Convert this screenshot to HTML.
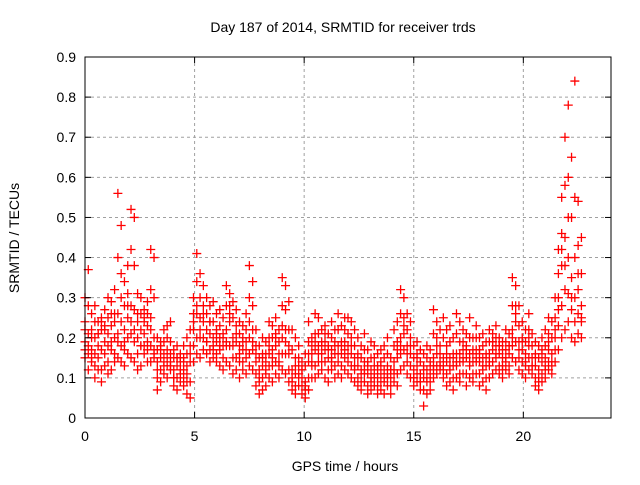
<!DOCTYPE html>
<html><head><meta charset="utf-8"><style>
body{margin:0;background:#fff;}
svg text{font-family:"Liberation Sans",sans-serif;font-size:14px;fill:#000;}
</style></head><body>
<svg id="chart" width="640" height="480" xmlns="http://www.w3.org/2000/svg">
<text x="343" y="32" text-anchor="middle">Day 187 of 2014, SRMTID for receiver trds</text>
<text transform="translate(19,238) rotate(-90)" text-anchor="middle">SRMTID / TECUs</text>
<text x="345" y="471" text-anchor="middle">GPS time / hours</text>
<g id="grid"></g><g id="pts"></g><g id="axes"></g>
</svg>
<script>
const xTicks=[0,5,10,15,20];
const yTicks=[0,0.1,0.2,0.3,0.4,0.5,0.6,0.7,0.8,0.9];
const yTickLabels=["0","0.1","0.2","0.3","0.4","0.5","0.6","0.7","0.8","0.9"];
const hours=[0,0.15,0.3,0.45,0.6,0.75,0.9,1.05,1.2,1.35,1.5,1.65,1.8,1.95,2.1,2.25,2.4,2.55,2.7,2.85,3,3.15,3.3,3.45,3.6,3.75,3.9,4.05,4.2,4.35,4.5,4.65,4.8,4.95,5.1,5.25,5.4,5.55,5.7,5.85,6,6.15,6.3,6.45,6.6,6.75,6.9,7.05,7.2,7.35,7.5,7.65,7.8,7.95,8.1,8.25,8.4,8.55,8.7,8.85,9,9.15,9.3,9.45,9.6,9.75,9.9,10.05,10.2,10.35,10.5,10.65,10.8,10.95,11.1,11.25,11.4,11.55,11.7,11.85,12,12.15,12.3,12.45,12.6,12.75,12.9,13.05,13.2,13.35,13.5,13.65,13.8,13.95,14.1,14.25,14.4,14.55,14.7,14.85,15,15.15,15.3,15.45,15.6,15.75,15.9,16.05,16.2,16.35,16.5,16.65,16.8,16.95,17.1,17.25,17.4,17.55,17.7,17.85,18,18.15,18.3,18.45,18.6,18.75,18.9,19.05,19.2,19.35,19.5,19.65,19.8,19.95,20.1,20.25,20.4,20.55,20.7,20.85,21,21.15,21.3,21.45,21.6,21.75,21.9,22.05,22.2,22.35,22.5,22.65];
const lowVals=[.15,.12,.14,.10,.12,.09,.13,.11,.12,.14,.15,.14,.13,.16,.15,.14,.12,.13,.16,.14,.14,.15,.07,.09,.11,.10,.12,.08,.07,.09,.08,.06,.05,.14,.16,.15,.17,.16,.14,.15,.14,.13,.12,.14,.13,.11,.12,.10,.12,.11,.13,.12,.08,.06,.07,.08,.10,.09,.11,.10,.12,.11,.09,.07,.06,.08,.06,.05,.07,.10,.10,.11,.12,.10,.09,.12,.10,.11,.10,.12,.11,.10,.09,.08,.07,.09,.06,.07,.08,.06,.07,.06,.08,.06,.09,.08,.12,.13,.11,.10,.08,.09,.07,.03,.06,.07,.10,.11,.12,.10,.08,.09,.07,.10,.09,.11,.08,.10,.09,.11,.08,.09,.07,.10,.11,.12,.11,.10,.12,.11,.15,.14,.12,.11,.10,.12,.11,.08,.07,.09,.10,.12,.11,.14,.17,.20,.22,.24,.20,.19,.21,.20];
const lowMidVals=[.17,.16,.15,.13,.15,.12,.16,.14,.17,.16,.19,.18,.17,.20,.21,.19,.16,.18,.18,.17,.18,.17,.10,.12,.13,.13,.13,.10,.10,.11,.10,.09,.09,.18,.20,.20,.20,.19,.17,.17,.16,.17,.15,.18,.18,.15,.15,.14,.14,.15,.16,.17,.11,.09,.10,.11,.13,.13,.14,.13,.16,.16,.12,.09,.08,.10,.08,.07,.10,.13,.13,.14,.14,.14,.12,.14,.13,.14,.13,.15,.14,.13,.12,.10,.09,.11,.08,.09,.10,.08,.09,.09,.10,.08,.11,.11,.16,.17,.14,.13,.10,.11,.09,.07,.09,.09,.12,.13,.13,.12,.11,.12,.10,.13,.11,.14,.11,.13,.11,.14,.11,.12,.10,.13,.14,.15,.13,.12,.14,.13,.18,.19,.15,.14,.13,.15,.13,.10,.09,.11,.12,.14,.13,.17,.23,.28,.32,.31,.27,.24,.26,.24];
const midVals=[.19,.21,.17,.20,.18,.22,.19,.21,.23,.20,.26,.24,.22,.25,.28,.27,.20,.22,.21,.23,.22,.20,.14,.15,.16,.17,.14,.12,.13,.14,.12,.13,.14,.22,.26,.25,.24,.22,.21,.20,.19,.20,.18,.22,.24,.20,.19,.18,.17,.19,.20,.22,.14,.12,.13,.14,.16,.17,.18,.16,.20,.22,.16,.12,.11,.13,.10,.09,.14,.16,.17,.18,.16,.19,.15,.17,.16,.18,.16,.19,.18,.16,.15,.13,.12,.14,.11,.12,.13,.10,.11,.12,.13,.10,.14,.15,.20,.21,.18,.16,.12,.13,.11,.10,.12,.11,.15,.16,.14,.15,.14,.15,.13,.16,.14,.17,.15,.16,.14,.17,.14,.15,.13,.16,.17,.18,.16,.15,.17,.16,.22,.24,.19,.17,.16,.18,.15,.13,.12,.14,.15,.17,.16,.20,.30,.38,.45,.40,.35,.30,.32,.28];
const altMidVals=[.22,.18,.20,.16,.21,.17,.22,.18,.19,.24,.21,.30,.19,.28,.24,.22,.24,.18,.25,.19,.25,.16,.12,.18,.14,.15,.16,.10,.15,.12,.14,.11,.16,.24,.28,.22,.26,.19,.24,.18,.21,.18,.20,.19,.26,.18,.21,.16,.19,.17,.24,.19,.16,.10,.15,.12,.18,.15,.20,.14,.23,.19,.18,.10,.13,.11,.12,.08,.16,.14,.19,.16,.18,.17,.17,.15,.18,.16,.18,.17,.16,.18,.13,.15,.11,.12,.13,.10,.11,.12,.13,.10,.11,.12,.12,.17,.18,.23,.16,.18,.10,.15,.09,.12,.10,.13,.13,.18,.16,.13,.16,.13,.15,.14,.16,.15,.17,.14,.16,.15,.16,.13,.15,.14,.19,.16,.18,.13,.15,.18,.20,.26,.17,.19,.14,.20,.13,.15,.10,.16,.13,.19,.14,.22,.27,.42,.38,.50,.30,.40,.36,.25];
const midHighVals=[.24,.28,.22,.24,.21,.24,.23,.25,.26,.26,.40,.36,.28,.31,.42,.38,.26,.26,.24,.26,.32,.30,.17,.17,.19,.20,.19,.15,.15,.15,.15,.16,.18,.26,.34,.30,.28,.26,.24,.24,.22,.23,.21,.28,.28,.25,.23,.21,.20,.22,.30,.28,.18,.15,.16,.16,.20,.20,.21,.19,.28,.27,.22,.17,.15,.15,.12,.13,.19,.18,.21,.21,.19,.21,.18,.20,.19,.22,.19,.22,.21,.20,.18,.16,.15,.17,.14,.15,.15,.13,.14,.15,.16,.12,.18,.19,.26,.25,.22,.20,.15,.16,.14,.13,.15,.14,.21,.20,.18,.20,.18,.19,.16,.21,.19,.19,.18,.20,.17,.20,.17,.18,.16,.19,.19,.20,.18,.17,.19,.18,.28,.28,.23,.20,.19,.22,.18,.16,.15,.17,.18,.21,.20,.25,.36,.46,.58,.60,.50,.55,.43,.36];
const highVals=[.30,.37,.26,.28,.24,.25,.27,.30,.29,.32,.56,.48,.34,.38,.52,.50,.31,.30,.27,.29,.42,.40,.20,.19,.22,.23,.24,.17,.18,.16,.18,.20,.22,.30,.41,.36,.33,.30,.28,.29,.26,.27,.25,.33,.31,.29,.27,.24,.23,.26,.38,.34,.22,.18,.20,.19,.24,.23,.25,.22,.35,.33,.29,.22,.20,.18,.14,.16,.24,.20,.26,.25,.22,.23,.21,.24,.22,.26,.23,.25,.25,.24,.22,.20,.18,.21,.17,.19,.18,.16,.17,.18,.20,.15,.22,.24,.32,.30,.26,.24,.18,.19,.17,.16,.18,.17,.27,.24,.22,.25,.22,.23,.20,.26,.24,.22,.21,.25,.20,.23,.20,.21,.19,.22,.21,.23,.20,.19,.22,.21,.35,.33,.28,.24,.22,.26,.21,.19,.18,.20,.22,.25,.24,.30,.42,.55,.70,.78,.65,.84,.54,.45];
const L=85,R=611,T=57,B=418,XMAX=24,YMAX=0.9;
const xs=v=>L+(R-L)*v/XMAX, ys=v=>B-(B-T)*v/YMAX;
const NS="http://www.w3.org/2000/svg";
function mk(tag,attrs,parent){const e=document.createElementNS(NS,tag);for(const k in attrs)e.setAttribute(k,attrs[k]);parent.appendChild(e);return e;}
const grid=document.getElementById('grid'),axes=document.getElementById('axes'),pts=document.getElementById('pts');
xTicks.forEach(t=>{const x=xs(t);
 if(t>0){const g=mk('line',{x1:x,x2:x,y1:T,y2:B,stroke:'#a0a0a0','stroke-dasharray':'3,3'},grid);
 
 }
 mk('line',{x1:x,x2:x,y1:B,y2:B-6,stroke:'#000'},axes);mk('line',{x1:x,x2:x,y1:T,y2:T+6,stroke:'#000'},axes);
 const tx=mk('text',{x:x,y:B+23,'text-anchor':'middle'},axes);tx.textContent=t;
 
 });
yTicks.forEach((t,i)=>{const y=ys(t);
 if(i>0&&i<yTicks.length-1){const g=mk('line',{x1:L,x2:R,y1:y,y2:y,stroke:'#a0a0a0','stroke-dasharray':'3,3'},grid);
 
 }
 mk('line',{x1:L,x2:L+6,y1:y,y2:y,stroke:'#000'},axes);mk('line',{x1:R,x2:R-6,y1:y,y2:y,stroke:'#000'},axes);
 const tx=mk('text',{x:L-9,y:y+5,'text-anchor':'end'},axes);tx.textContent=yTickLabels[i];
 
 });
const box=mk('rect',{x:L,y:T,width:R-L,height:B-T,fill:'none',stroke:'#000'},axes);


[lowVals,lowMidVals,midVals,altMidVals,midHighVals,highVals].forEach(series=>{series.forEach((v,i)=>{
 const x=xs(hours[i]),y=ys(v);
 const p=mk('path',{d:`M${x-4.5},${y}H${x+4.5}M${x},${y-4.5}V${y+4.5}`,stroke:'#ff0000','stroke-width':1.3},pts);
 
 });});
</script>
</body></html>
